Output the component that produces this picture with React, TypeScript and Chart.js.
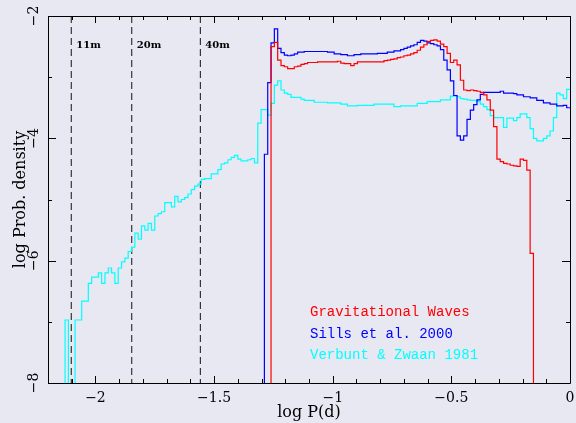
import { useEffect, useRef } from 'react';
import { Chart, registerables } from 'chart.js';

Chart.register(...registerables);

// ---------- data ----------
const EMPTY = -10; // empty bin (log of zero) -> below the axis
const BIN_START = -2.128; // left edge of first histogram bin (log P [d])
const BIN_WIDTH = 0.014;

const seriesNames = ['Gravitational Waves', 'Sills et al. 2000', 'Verbunt & Zwaan 1981'];
const seriesColors = ['#ff0000', '#0000ff', '#00ffff'];

const gwFirstBin = 62;
const gwValues = [
  -2.50, -2.43, -2.72, -2.81, -2.83, -2.86, -2.86, -2.83,
  -2.82, -2.79, -2.78, -2.76, -2.76, -2.76, -2.75, -2.75, -2.75, -2.75,
  -2.75, -2.75, -2.74, -2.77, -2.78, -2.78, -2.81, -2.78, -2.75, -2.75,
  -2.75, -2.75, -2.75, -2.75, -2.75, -2.75, -2.73, -2.72, -2.71, -2.70,
  -2.68, -2.67, -2.65, -2.64, -2.62, -2.60, -2.56, -2.51, -2.47, -2.42,
  -2.40, -2.39, -2.41, -2.46, -2.50, -2.61, -2.76, -2.72, -2.80, -3.05,
  -3.21, -3.22, -3.21, -3.22, -3.23, -3.25, -3.29, -3.37, -3.54, -3.81,
  -4.34, -4.38, -4.41, -4.42, -4.44, -4.45, -4.46, -4.34, -4.36, -4.52,
  -5.88, EMPTY,
];

const sillsFirstBin = 60;
const sillsValues = [
  -4.26, -3.09, -2.44, -2.21, -2.53, -2.60, -2.64, -2.65, -2.64, -2.62,
  -2.59, -2.59, -2.58, -2.58, -2.58, -2.58, -2.58, -2.58, -2.58, -2.59,
  -2.59, -2.62, -2.62, -2.63, -2.63, -2.65, -2.65, -2.63, -2.63, -2.62,
  -2.62, -2.62, -2.62, -2.62, -2.61, -2.61, -2.61, -2.59, -2.59, -2.57,
  -2.57, -2.55, -2.53, -2.51, -2.49, -2.47, -2.43, -2.40, -2.41, -2.44,
  -2.45, -2.47, -2.49, -2.55, -2.72, -2.88, -3.06, -3.30, -3.96, -4.03,
  -3.96, -3.69, -3.54, -3.45, -3.37, -3.28, -3.25, -3.25, -3.25, -3.25,
  -3.25, -3.23, -3.26, -3.26, -3.26, -3.27, -3.29, -3.29, -3.32, -3.32,
  -3.34, -3.34, -3.38, -3.38, -3.42, -3.42, -3.44, -3.44, -3.47, -3.47,
  -3.46, -3.50,
];

const vzFirstBin = 0;
const vzValues = [
  -6.97, EMPTY, EMPTY, -6.97, -6.97, -6.66, -6.66, -6.37, -6.27, -6.27,
  -6.20, -6.37, -6.20, -6.12, -6.20, -6.37, -6.12, -6.02, -5.96, -5.85,
  -5.78, -5.55, -5.65, -5.43, -5.50, -5.39, -5.50, -5.27, -5.23, -5.20,
  -5.05, -5.05, -5.12, -4.95, -5.04, -5.00, -4.97, -4.91, -4.84, -4.78,
  -4.75, -4.67, -4.66, -4.66, -4.58, -4.58, -4.51, -4.42, -4.40, -4.35,
  -4.31, -4.28, -4.34, -4.37, -4.37, -4.35, -4.33, -4.40, -3.75, -3.53,
  -3.53, -3.62, -3.43, -3.13, -3.06, -3.21, -3.26, -3.28, -3.33, -3.33,
  -3.33, -3.36, -3.38, -3.38, -3.38, -3.41, -3.41, -3.41, -3.41, -3.42,
  -3.42, -3.42, -3.42, -3.44, -3.44, -3.47, -3.47, -3.47, -3.46, -3.46,
  -3.46, -3.46, -3.46, -3.44, -3.44, -3.44, -3.44, -3.44, -3.44, -3.48,
  -3.48, -3.47, -3.47, -3.47, -3.47, -3.47, -3.43, -3.43, -3.43, -3.40,
  -3.40, -3.40, -3.40, -3.37, -3.37, -3.37, -3.31, -3.31, -3.32, -3.35,
  -3.36, -3.37, -3.38, -3.38, -3.40, -3.44, -3.48, -3.53, -3.63, -3.66,
  -3.66, -3.66, -3.82, -3.67, -3.67, -3.71, -3.66, -3.60, -3.60, -3.66,
  -3.84, -4.00, -4.04, -4.04, -4.00, -3.96, -3.88, -3.66, -3.26, -3.29,
  -3.35, -3.20,
];

const periodLabels = ['11m', '20m', '40m'];
const periodLogP = [-2.102, -1.847, -1.558];

const xTickValues = [-2, -1.5, -1, -0.5, 0];
const xTickLabels = ['\u22122', '\u22121.5', '\u22121', '\u22120.5', '0'];
const yTickValues = [-8, -6, -4, -2];
const yTickLabels = ['\u22128', '\u22126', '\u22124', '\u22122'];

const xTitle = 'log P(d)';
const yTitle = 'log Prob. density';

// ---------- styling ----------
const BG = '#e8e8f2';
const SERIF = '"DejaVu Serif", serif';
const MONO = '"Liberation Mono", monospace';

function histogramPoints(firstBin: number, values: number[]) {
  const pts = [{ x: BIN_START + firstBin * BIN_WIDTH, y: EMPTY }];
  values.forEach((v, k) => pts.push({ x: BIN_START + (firstBin + k) * BIN_WIDTH, y: v }));
  pts.push({ x: BIN_START + (firstBin + values.length) * BIN_WIDTH, y: values[values.length - 1] });
  return pts;
}

const backgroundPlugin = {
  id: 'bg',
  beforeDraw(chart: any) {
    const { ctx, width, height } = chart;
    ctx.save();
    ctx.fillStyle = BG;
    ctx.fillRect(0, 0, width, height);
    ctx.restore();
  },
};

const framePlugin = {
  id: 'frame',
  afterDatasetsDraw(chart: any) {
    const { ctx, chartArea: a, scales } = chart;
    const xs = scales.x;
    const ys = scales.y;
    ctx.save();
    ctx.strokeStyle = '#000';
    ctx.lineWidth = 1;
    ctx.beginPath();
    ctx.rect(a.left + 0.5, a.top + 0.5, a.right - a.left, a.bottom - a.top);
    for (let k = -22; k <= 0; k++) {
      const v = k / 10;
      const len = k % 5 === 0 ? 7 : 4;
      const px = Math.round(xs.getPixelForValue(v)) + 0.5;
      ctx.moveTo(px, a.bottom);
      ctx.lineTo(px, a.bottom - len);
      ctx.moveTo(px, a.top);
      ctx.lineTo(px, a.top + len);
    }
    for (let k = -8; k <= -2; k++) {
      const len = k % 2 === 0 ? 8 : 4;
      const py = Math.round(ys.getPixelForValue(k)) + 0.5;
      ctx.moveTo(a.left, py);
      ctx.lineTo(a.left + len, py);
      ctx.moveTo(a.right, py);
      ctx.lineTo(a.right - len, py);
    }
    ctx.stroke();

    // tick labels
    ctx.fillStyle = '#000';
    ctx.font = '14px ' + SERIF;
    ctx.textAlign = 'center';
    ctx.textBaseline = 'alphabetic';
    xTickValues.forEach((v, i) => {
      ctx.fillText(xTickLabels[i], xs.getPixelForValue(v), a.bottom + 19);
    });
    yTickValues.forEach((v, i) => {
      ctx.save();
      ctx.translate(a.left - 10, ys.getPixelForValue(v));
      ctx.rotate(-Math.PI / 2);
      ctx.fillText(yTickLabels[i], 0, 0);
      ctx.restore();
    });

    // axis titles
    ctx.font = '16px ' + SERIF;
    ctx.fillText(xTitle, (a.left + a.right) / 2, a.bottom + 34);
    ctx.save();
    ctx.translate(a.left - 23, (a.top + a.bottom) / 2);
    ctx.rotate(-Math.PI / 2);
    ctx.fillText(yTitle, 0, 0);
    ctx.restore();

    // period markers labels
    ctx.font = 'bold 10px ' + SERIF;
    ctx.textAlign = 'left';
    periodLogP.forEach((v, i) => {
      ctx.fillText(periodLabels[i], xs.getPixelForValue(v) + 5, a.top + 32);
    });

    // legend
    ctx.font = '14px ' + MONO;
    seriesNames.forEach((name, i) => {
      ctx.fillStyle = seriesColors[i];
      ctx.fillText(name, a.left + 262, a.top + 300 + i * 21.5);
    });
    ctx.restore();
  },
};

export default function App() {
  const ref = useRef<HTMLCanvasElement | null>(null);

  useEffect(() => {
    document.body.style.margin = '0';
    document.body.style.background = BG;
    const histos = [
      { values: gwValues, first: gwFirstBin },
      { values: sillsValues, first: sillsFirstBin },
      { values: vzValues, first: vzFirstBin },
    ];
    const datasets: any[] = histos.map((h, i) => ({
      label: seriesNames[i],
      data: histogramPoints(h.first, h.values),
      borderColor: seriesColors[i],
      borderWidth: 1.2,
      stepped: 'before',
      pointRadius: 0,
      fill: false,
      tension: 0,
    }));
    periodLogP.forEach((v, i) => {
      datasets.push({
        label: periodLabels[i],
        data: [
          { x: v, y: -2 },
          { x: v, y: -8 },
        ],
        borderColor: '#111',
        borderWidth: 1,
        borderDash: [7, 4],
        pointRadius: 0,
        fill: false,
      });
    });

    const chart = new Chart(ref.current as HTMLCanvasElement, {
      type: 'line',
      data: { datasets },
      options: {
        animation: false,
        responsive: false,
        devicePixelRatio: 1,
        events: [],
        layout: { padding: { left: 48, top: 16, right: 6, bottom: 40 } },
        plugins: { legend: { display: false }, tooltip: { enabled: false }, title: { display: false } },
        scales: {
          x: { type: 'linear', min: -2.2, max: 0, display: false },
          y: { type: 'linear', min: -8, max: -2, display: false },
        },
      },
      plugins: [backgroundPlugin, framePlugin],
    } as any);
    return () => chart.destroy();
  }, []);

  return (
    <div style={{ width: 576, height: 423 }}>
      <canvas ref={ref} width={576} height={423} style={{ display: 'block' }} />
    </div>
  );
}
